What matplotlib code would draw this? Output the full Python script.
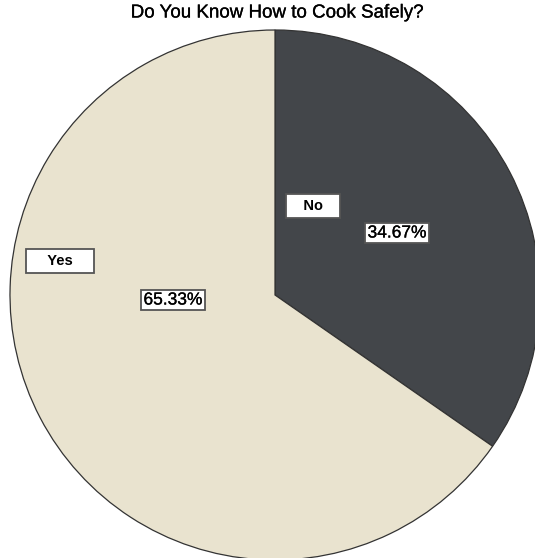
import matplotlib
matplotlib.use("Agg")
import matplotlib.pyplot as plt
import matplotlib.patheffects as pe

title = "Do You Know How to Cook Safely?"
categories = ["No", "Yes"]
values = [34.67, 65.33]
colors = ["#43464a", "#e9e3cf"]

W, H = 535, 558
fig = plt.figure(figsize=(W / 100, H / 100), dpi=100)
ax = fig.add_axes([0, 0, 1, 1])
ax.set_xlim(0, W)
ax.set_ylim(0, H)
ax.set_aspect("equal")
ax.axis("off")

cx, cy, r = 275, H - 295, 265
ax.pie(values, colors=colors, startangle=90, counterclock=False,
       center=(cx, cy), radius=r, frame=True,
       wedgeprops=dict(edgecolor="#333333", linewidth=0.9))
ax.set_xlim(0, W)
ax.set_ylim(0, H)
ax.axis("off")

font = "Liberation Sans"
box_cat = dict(boxstyle="square,pad=0.32", facecolor="white", edgecolor="#555555", linewidth=1.3)
box_pct = dict(boxstyle="square,pad=0.15", facecolor="white", edgecolor="#555555", linewidth=1.3)
heavy = [pe.withStroke(linewidth=0.2, foreground="black")]

cat_pos = [(313, H - 206), (60, H - 261)]
pct_pos = [(397, H - 233), (173, H - 300)]
for cat, v, cp, pp in zip(categories, values, cat_pos, pct_pos):
    pad = "   " if len(cat) < 3 else "    "
    ax.text(cp[0], cp[1], pad + cat + pad, ha="center", va="center", fontsize=10.5,
            fontweight="bold", family=font, bbox=box_cat)
    ax.text(pp[0], pp[1], f"{v:.2f}%", ha="center", va="center", fontsize=12.5,
            family=font, bbox=box_pct, path_effects=heavy)

fig.text(277 / W, 1 - 13 / H, title, ha="center", va="center", fontsize=13.5,
         family=font, path_effects=heavy)

fig.savefig("out.png", dpi=100)
